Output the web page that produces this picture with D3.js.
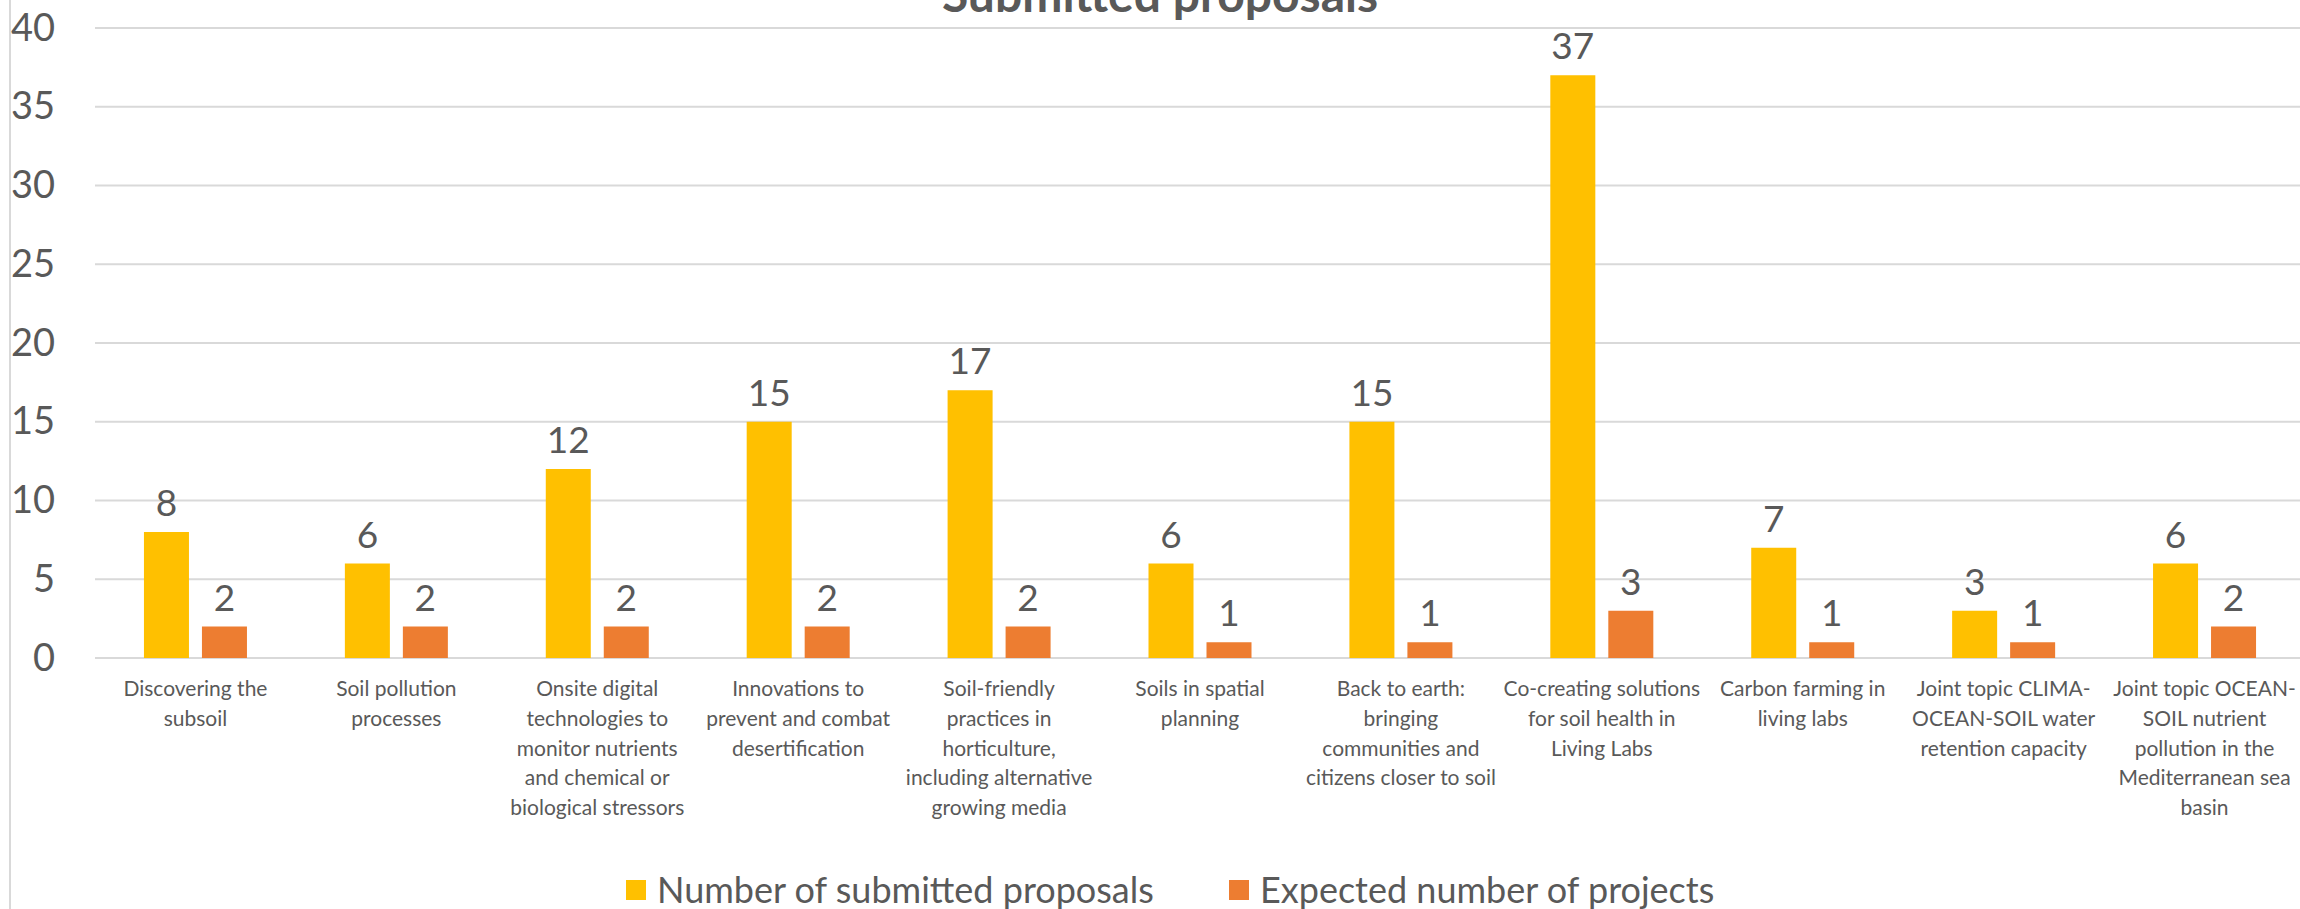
<!DOCTYPE html>
<html>
<head>
<meta charset="utf-8">
<script src="https://cdn.jsdelivr.net/npm/d3@7"></script>
<style>
body { margin: 0; background: #fff; }
text { font-family: Lato, "Open Sans", sans-serif; fill: #595959; }
.grid line { stroke: #d9d9d9; stroke-width: 2; }
</style>
</head>
<body>
<div id="chart"></div>
<script>
// category labels, already wrapped the way the original chart wraps them
var categories = [
    ["Discovering the", "subsoil"],
    ["Soil pollution", "processes"],
    ["Onsite digital", "technologies to", "monitor nutrients", "and chemical or", "biological stressors"],
    ["Innovations to", "prevent and combat", "desertification"],
    ["Soil-friendly", "practices in", "horticulture,", "including alternative", "growing media"],
    ["Soils in spatial", "planning"],
    ["Back to earth:", "bringing", "communities and", "citizens closer to soil"],
    ["Co-creating solutions", "for soil health in", "Living Labs"],
    ["Carbon farming in", "living labs"],
    ["Joint topic CLIMA-", "OCEAN-SOIL water", "retention capacity"],
    ["Joint topic OCEAN-", "SOIL nutrient", "pollution in the", "Mediterranean sea", "basin"]
];
var submitted = [8, 6, 12, 15, 17, 6, 15, 37, 7, 3, 6];
var expected = [2, 2, 2, 2, 2, 1, 1, 3, 1, 1, 2];
var series = ["Number of submitted proposals", "Expected number of projects"];
var yTicks = [0, 5, 10, 15, 20, 25, 30, 35, 40];
var title = "Submitted proposals";

var W = 2300, H = 909;
var plot = {left: 95, right: 2305, top: 28, bottom: 658};

var color = d3.scaleOrdinal().domain(series).range(["#ffc000", "#ed7d31"]);

var svg = d3.select("#chart").append("svg")
    .attr("width", W)
    .attr("height", H);

var idx = d3.range(categories.length);
var rows = idx.map(function(i) {
    return {i: i, values: [
        {key: series[0], val: submitted[i]},
        {key: series[1], val: expected[i]}
    ]};
});

var x0 = d3.scaleBand().domain(idx).range([plot.left, plot.right]);
var bw = x0.bandwidth();
var x1 = d3.scaleBand().domain(series)
    .range([bw / 2 - 51.5, bw / 2 + 51.5])
    .paddingInner(0.224);
var y = d3.scaleLinear().domain([0, 40]).range([plot.bottom, plot.top]);

// chart area border on the left
svg.append("line")
    .attr("x1", 10).attr("x2", 10)
    .attr("y1", 0).attr("y2", H)
    .style("stroke", "#d9d9d9")
    .style("stroke-width", 2);

// gridlines
svg.append("g")
    .attr("class", "grid")
    .selectAll("line")
    .data(yTicks)
    .enter().append("line")
    .attr("x1", plot.left)
    .attr("x2", W)
    .attr("y1", function(d) { return y(d); })
    .attr("y2", function(d) { return y(d); });

// y axis labels
var yAxis = svg.append("g")
    .attr("transform", "translate(" + plot.left + ",0)")
    .call(d3.axisLeft(y).tickValues(yTicks).tickSize(0).tickPadding(40));
yAxis.select(".domain").remove();
yAxis.selectAll("text")
    .attr("fill", "#595959")
    .style("font-family", "Lato, sans-serif")
    .style("font-size", "38px");

// bars
var groups = svg.selectAll(".group")
    .data(rows)
    .enter().append("g")
    .attr("class", "group")
    .attr("transform", function(d) { return "translate(" + x0(d.i) + ",0)"; });

groups.selectAll("rect")
    .data(function(d) { return d.values; })
    .enter().append("rect")
    .attr("x", function(d) { return x1(d.key); })
    .attr("width", x1.bandwidth())
    .attr("y", function(d) { return y(d.val); })
    .attr("height", function(d) { return y(0) - y(d.val); })
    .style("fill", function(d) { return color(d.key); });

groups.selectAll(".val")
    .data(function(d) { return d.values; })
    .enter().append("text")
    .attr("class", "val")
    .attr("x", function(d) { return x1(d.key) + x1.bandwidth() / 2; })
    .attr("y", function(d) { return y(d.val) - 16; })
    .style("text-anchor", "middle")
    .style("font-size", "37px")
    .text(function(d) { return d.val; });

// category labels
var xAxis = svg.append("g")
    .attr("transform", "translate(0," + plot.bottom + ")")
    .call(d3.axisBottom(x0).tickSize(0).tickFormat(""));
xAxis.select(".domain").remove();

svg.selectAll(".cat")
    .data(rows)
    .enter().append("text")
    .attr("class", "cat")
    .attr("x", function(d) { return x0(d.i) + bw / 2; })
    .attr("y", 696)
    .style("text-anchor", "middle")
    .style("font-size", "21px")
    .selectAll("tspan")
    .data(function(d) { return categories[d.i]; })
    .enter().append("tspan")
    .attr("x", function() { return this.parentNode.getAttribute("x"); })
    .attr("dy", function(d, i) { return i === 0 ? 0 : 29.8; })
    .text(function(d) { return d; });

// title (cut off at the top, as in the original)
svg.append("text")
    .attr("x", 1160)
    .attr("y", 12)
    .style("text-anchor", "middle")
    .style("font-size", "48px")
    .style("font-weight", "bold")
    .text(title);

// legend
var legendX = [626, 1229];
var legend = svg.selectAll(".legend")
    .data(series)
    .enter().append("g")
    .attr("class", "legend")
    .attr("transform", function(d, i) { return "translate(" + legendX[i] + ",880)"; });

legend.append("rect")
    .attr("width", 20)
    .attr("height", 20)
    .style("fill", color);

legend.append("text")
    .attr("x", 31)
    .attr("y", 10)
    .attr("dy", ".35em")
    .style("font-size", "36px")
    .text(function(d) { return d; });
</script>
</body>
</html>
